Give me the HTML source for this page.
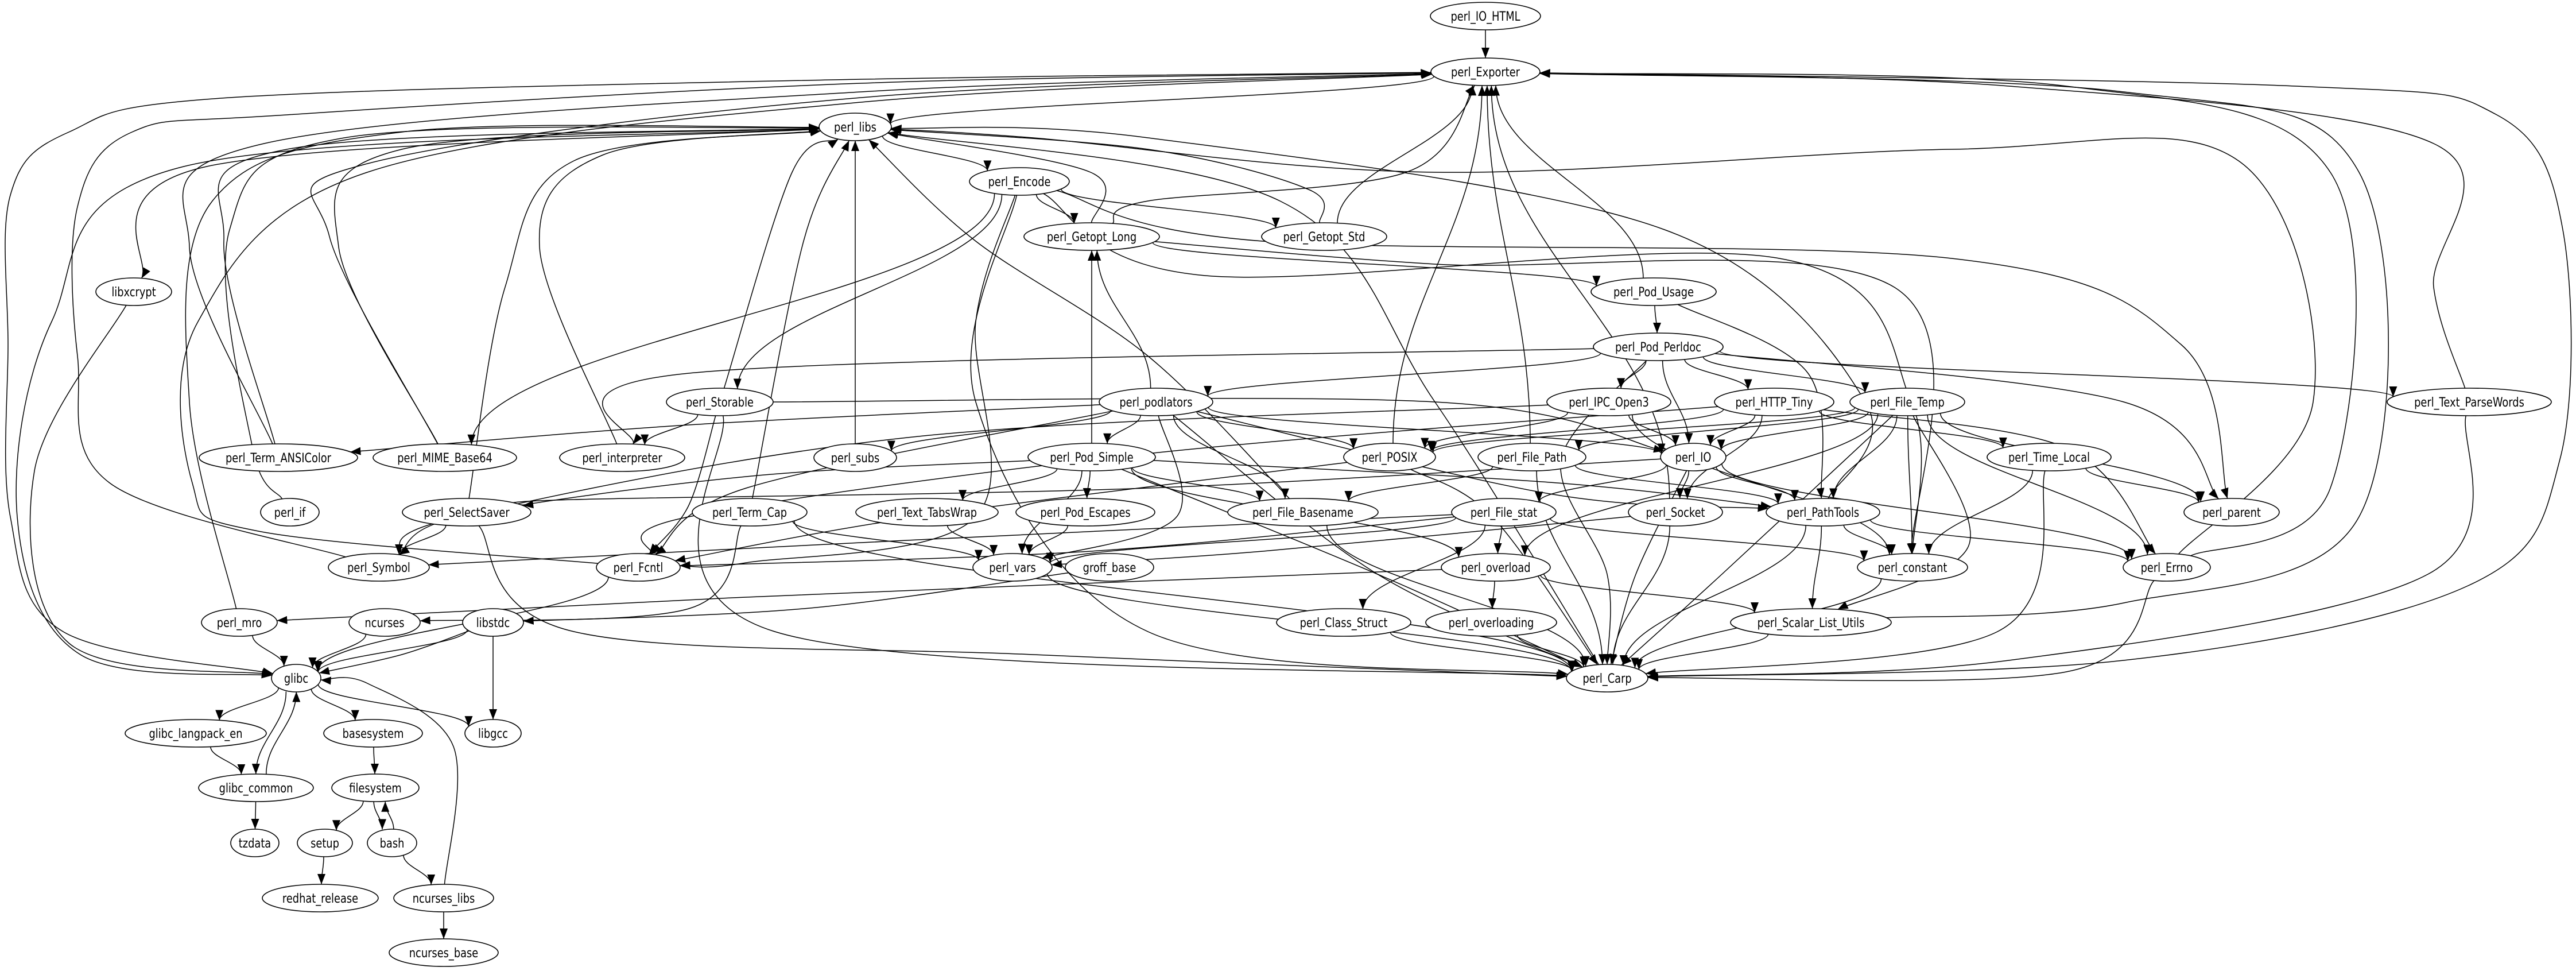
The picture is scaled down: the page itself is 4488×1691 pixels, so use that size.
<!DOCTYPE html>
<html><head><meta charset="utf-8"><style>
html,body{margin:0;padding:0;background:#fff;width:4488px;height:1691px;overflow:hidden}
svg{display:block}
text{font-family:"DejaVu Sans","Liberation Sans",sans-serif;font-size:22px;text-anchor:middle;fill:#000}
ellipse{fill:#fff;stroke:#000;stroke-width:1.6}
</style></head><body>
<svg id="g" width="4488" height="1691" viewBox="0 0 4488 1691" xmlns="http://www.w3.org/2000/svg">
<defs><marker id="a" markerUnits="userSpaceOnUse" markerWidth="20" markerHeight="14" refX="18" refY="7" orient="auto"><polygon points="0,0 18,7 0,14" fill="#000"/></marker></defs>
<g id="edges" fill="none" stroke="#000" stroke-width="1.5"></g>
<g id="nodes">
<ellipse cx="2588" cy="28" rx="96" ry="24"/><text transform="translate(2588,36) scale(.81,1)">perl_IO_HTML</text>
<ellipse cx="2588" cy="125" rx="95" ry="24"/><text transform="translate(2588,133) scale(.81,1)">perl_Exporter</text>
<ellipse cx="1490" cy="221" rx="63" ry="24"/><text transform="translate(1490,229) scale(.81,1)">perl_libs</text>
<ellipse cx="1776" cy="316" rx="87" ry="24"/><text transform="translate(1776,324) scale(.81,1)">perl_Encode</text>
<ellipse cx="1902" cy="412" rx="118" ry="24"/><text transform="translate(1902,420) scale(.81,1)">perl_Getopt_Long</text>
<ellipse cx="2307" cy="412" rx="109" ry="24"/><text transform="translate(2307,420) scale(.81,1)">perl_Getopt_Std</text>
<ellipse cx="233" cy="508" rx="66" ry="24"/><text transform="translate(233,516) scale(.81,1)">libxcrypt</text>
<ellipse cx="2881" cy="508" rx="109" ry="24"/><text transform="translate(2881,516) scale(.81,1)">perl_Pod_Usage</text>
<ellipse cx="2889" cy="604" rx="113" ry="24"/><text transform="translate(2889,612) scale(.81,1)">perl_Pod_Perldoc</text>
<ellipse cx="1254" cy="700" rx="93" ry="24"/><text transform="translate(1254,708) scale(.81,1)">perl_Storable</text>
<ellipse cx="2014" cy="700" rx="99" ry="24"/><text transform="translate(2014,708) scale(.81,1)">perl_podlators</text>
<ellipse cx="2803" cy="700" rx="108" ry="24"/><text transform="translate(2803,708) scale(.81,1)">perl_IPC_Open3</text>
<ellipse cx="3091" cy="700" rx="104" ry="24"/><text transform="translate(3091,708) scale(.81,1)">perl_HTTP_Tiny</text>
<ellipse cx="3323" cy="700" rx="100" ry="24"/><text transform="translate(3323,708) scale(.81,1)">perl_File_Temp</text>
<ellipse cx="4302" cy="700" rx="143" ry="24"/><text transform="translate(4302,708) scale(.81,1)">perl_Text_ParseWords</text>
<ellipse cx="485" cy="797" rx="138" ry="24"/><text transform="translate(485,805) scale(.81,1)">perl_Term_ANSIColor</text>
<ellipse cx="775" cy="797" rx="125" ry="24"/><text transform="translate(775,805) scale(.81,1)">perl_MIME_Base64</text>
<ellipse cx="1084" cy="797" rx="109" ry="24"/><text transform="translate(1084,805) scale(.81,1)">perl_interpreter</text>
<ellipse cx="1490" cy="797" rx="72" ry="24"/><text transform="translate(1490,805) scale(.81,1)">perl_subs</text>
<ellipse cx="1902" cy="796" rx="111" ry="24"/><text transform="translate(1902,804) scale(.81,1)">perl_Pod_Simple</text>
<ellipse cx="2421" cy="796" rx="80" ry="24"/><text transform="translate(2421,804) scale(.81,1)">perl_POSIX</text>
<ellipse cx="2669" cy="796" rx="94" ry="24"/><text transform="translate(2669,804) scale(.81,1)">perl_File_Path</text>
<ellipse cx="2950" cy="796" rx="57" ry="24"/><text transform="translate(2950,804) scale(.81,1)">perl_IO</text>
<ellipse cx="3570" cy="796" rx="108" ry="24"/><text transform="translate(3570,804) scale(.81,1)">perl_Time_Local</text>
<ellipse cx="505" cy="892" rx="51" ry="24"/><text transform="translate(505,900) scale(.81,1)">perl_if</text>
<ellipse cx="813" cy="892" rx="112" ry="24"/><text transform="translate(813,900) scale(.81,1)">perl_SelectSaver</text>
<ellipse cx="1306" cy="892" rx="100" ry="24"/><text transform="translate(1306,900) scale(.81,1)">perl_Term_Cap</text>
<ellipse cx="1615" cy="892" rx="124" ry="24"/><text transform="translate(1615,900) scale(.81,1)">perl_Text_TabsWrap</text>
<ellipse cx="1891" cy="892" rx="121" ry="24"/><text transform="translate(1891,900) scale(.81,1)">perl_Pod_Escapes</text>
<ellipse cx="2270" cy="892" rx="131" ry="24"/><text transform="translate(2270,900) scale(.81,1)">perl_File_Basename</text>
<ellipse cx="2620" cy="892" rx="91" ry="24"/><text transform="translate(2620,900) scale(.81,1)">perl_File_stat</text>
<ellipse cx="2919" cy="892" rx="82" ry="24"/><text transform="translate(2919,900) scale(.81,1)">perl_Socket</text>
<ellipse cx="3176" cy="892" rx="99" ry="24"/><text transform="translate(3176,900) scale(.81,1)">perl_PathTools</text>
<ellipse cx="3888" cy="892" rx="83" ry="24"/><text transform="translate(3888,900) scale(.81,1)">perl_parent</text>
<ellipse cx="660" cy="988" rx="88" ry="24"/><text transform="translate(660,996) scale(.81,1)">perl_Symbol</text>
<ellipse cx="1112" cy="988" rx="73" ry="24"/><text transform="translate(1112,996) scale(.81,1)">perl_Fcntl</text>
<ellipse cx="1764" cy="988" rx="69" ry="24"/><text transform="translate(1764,996) scale(.81,1)">perl_vars</text>
<ellipse cx="1933" cy="988" rx="77" ry="24"/><text transform="translate(1933,996) scale(.81,1)">groff_base</text>
<ellipse cx="2606" cy="988" rx="95" ry="24"/><text transform="translate(2606,996) scale(.81,1)">perl_overload</text>
<ellipse cx="3332" cy="988" rx="96" ry="24"/><text transform="translate(3332,996) scale(.81,1)">perl_constant</text>
<ellipse cx="3775" cy="988" rx="76" ry="24"/><text transform="translate(3775,996) scale(.81,1)">perl_Errno</text>
<ellipse cx="417" cy="1084" rx="66" ry="24"/><text transform="translate(417,1092) scale(.81,1)">perl_mro</text>
<ellipse cx="670" cy="1084" rx="62" ry="24"/><text transform="translate(670,1092) scale(.81,1)">ncurses</text>
<ellipse cx="859" cy="1084" rx="53" ry="24"/><text transform="translate(859,1092) scale(.81,1)">libstdc</text>
<ellipse cx="2341" cy="1084" rx="117" ry="24"/><text transform="translate(2341,1092) scale(.81,1)">perl_Class_Struct</text>
<ellipse cx="2598" cy="1084" rx="114" ry="24"/><text transform="translate(2598,1092) scale(.81,1)">perl_overloading</text>
<ellipse cx="3155" cy="1084" rx="140" ry="24"/><text transform="translate(3155,1092) scale(.81,1)">perl_Scalar_List_Utils</text>
<ellipse cx="516" cy="1181" rx="43" ry="24"/><text transform="translate(516,1189) scale(.81,1)">glibc</text>
<ellipse cx="2800" cy="1181" rx="71" ry="24"/><text transform="translate(2800,1189) scale(.81,1)">perl_Carp</text>
<ellipse cx="341" cy="1277" rx="123" ry="24"/><text transform="translate(341,1285) scale(.81,1)">glibc_langpack_en</text>
<ellipse cx="650" cy="1277" rx="86" ry="24"/><text transform="translate(650,1285) scale(.81,1)">basesystem</text>
<ellipse cx="859" cy="1277" rx="49" ry="24"/><text transform="translate(859,1285) scale(.81,1)">libgcc</text>
<ellipse cx="446" cy="1372" rx="100" ry="24"/><text transform="translate(446,1380) scale(.81,1)">glibc_common</text>
<ellipse cx="654" cy="1372" rx="76" ry="24"/><text transform="translate(654,1380) scale(.81,1)">filesystem</text>
<ellipse cx="444" cy="1468" rx="42" ry="24"/><text transform="translate(444,1476) scale(.81,1)">tzdata</text>
<ellipse cx="566" cy="1468" rx="48" ry="24"/><text transform="translate(566,1476) scale(.81,1)">setup</text>
<ellipse cx="683" cy="1468" rx="43" ry="24"/><text transform="translate(683,1476) scale(.81,1)">bash</text>
<ellipse cx="558" cy="1564" rx="101" ry="24"/><text transform="translate(558,1572) scale(.81,1)">redhat_release</text>
<ellipse cx="773" cy="1564" rx="87" ry="24"/><text transform="translate(773,1572) scale(.81,1)">ncurses_libs</text>
<ellipse cx="773" cy="1659" rx="95" ry="24"/><text transform="translate(773,1667) scale(.81,1)">ncurses_base</text>
</g>
</svg>
<script>
var N={};
document.querySelectorAll('#nodes ellipse').forEach(function(e){
  var t=e.nextElementSibling.textContent;
  N[t]={x:+e.getAttribute('cx'),y:+e.getAttribute('cy'),rx:+e.getAttribute('rx'),ry:24};
});
function bp(n,p){var dx=p[0]-n.x,dy=p[1]-n.y;if(!dx&&!dy)dy=1;var t=1/Math.sqrt((dx/n.rx)*(dx/n.rx)+(dy/n.ry)*(dy/n.ry));return [n.x+dx*t,n.y+dy*t];}
var P='perl_';
var E=[
['IO_HTML','Exporter'],['Exporter','libs'],
['Exporter','glibc',[[1500,138],[400,170],[120,230],[18,340],[14,600],[18,900],[110,1100]]],
['Symbol','Exporter',[[191,841],[135,620],[135,360],[230,230],[500,200],[1500,145]]],
['Term_ANSIColor','Exporter',[[330,430],[460,250],[1500,160]]],
['MIME_Base64','Exporter',[[574,412],[640,285],[1500,170]]],
['Fcntl','Exporter',[[450,925],[335,841],[345,560],[640,300],[1500,178]]],
['libs','libxcrypt',[[360,290]]],
['libs','glibc',[[320,290],[90,560],[30,900],[140,1140]]],
['libxcrypt','glibc',[[60,820],[120,1120]]],
['Term_ANSIColor','libs',[[390,420],[500,260]]],
['MIME_Base64','libs',[[590,430],[700,260]]],
['interpreter','libs',[[940,430],[1050,270]]],
['if','libs',[[440,780],[400,400],[600,240]]],
['SelectSaver','libs',[[880,500],[1000,280]]],
['mro','libs',[[330,700],[370,350],[700,230]]],
['subs','libs'],['Storable','libs',[[1380,300]]],
['Term_Cap','libs',[[1400,420]]],
['Getopt_Long','libs',[[1900,300]]],['Getopt_Std','libs',[[2280,330],[2000,260]]],
['File_Basename','libs',[[2000,620],[1700,420]]],
['Carp','libs',[[2500,700],[2230,350]]],
['Errno','libs',[[4030,700],[3900,280],[3400,260],[2500,300],[1800,240]]],
['PathTools','libs',[[3250,700],[2900,400],[2000,240]]],
['libs','Encode'],
['Encode','Getopt_Long'],['Encode','Getopt_Std'],['Encode','Storable'],['Encode','MIME_Base64'],
['Encode','constant',[[2100,480],[3100,450],[3330,700]]],
['Encode','parent',[[2200,420],[3400,450],[3800,600]]],
['Encode','Carp',[[1700,700],[2000,1100]]],
['Encode','Fcntl',[[1700,560],[1700,900],[1300,980]]],
['Getopt_Long','Pod_Usage'],['Getopt_Long','constant',[[2500,460],[3300,500]]],
['Getopt_Long','Exporter',[[2000,350],[2450,300]]],
['Getopt_Std','Exporter'],
['Pod_Usage','Exporter'],['Pod_Usage','Pod_Perldoc'],['Pod_Usage','PathTools',[[3150,650]]],
['Pod_Perldoc','podlators'],['Pod_Perldoc','IPC_Open3'],['Pod_Perldoc','IO'],['Pod_Perldoc','HTTP_Tiny'],
['Pod_Perldoc','File_Temp'],['Pod_Perldoc','Text_ParseWords'],['Pod_Perldoc','parent',[[3700,700]]],
['Pod_Perldoc','interpreter',[[1200,650]]],['Pod_Perldoc','Carp',[[2720,800],[2800,1000]]],
['podlators','Getopt_Long'],['podlators','Pod_Simple'],['podlators','subs'],['podlators','POSIX'],
['podlators','IO'],['podlators','File_Basename'],['podlators','vars',[[2050,900]]],
['podlators','Term_ANSIColor',[[1200,740]]],['podlators','Carp',[[2400,1000]]],['podlators','PathTools',[[2700,860]]],
['podlators','Fcntl',[[1300,850]]],
['Storable','Fcntl',[[1200,880]]],['Storable','Carp',[[1350,1100]]],['Storable','IO',[[2500,700]]],['Storable','interpreter'],
['IPC_Open3','POSIX'],['IPC_Open3','IO'],['IPC_Open3','constant'],['IPC_Open3','Symbol',[[1600,760],[800,900]]],
['HTTP_Tiny','IO'],['HTTP_Tiny','Socket'],['HTTP_Tiny','Time_Local'],['HTTP_Tiny','Errno',[[3600,780]]],
['HTTP_Tiny','POSIX'],['HTTP_Tiny','Fcntl',[[2000,790],[1200,900]]],
['File_Temp','IO'],['File_Temp','File_Path'],['File_Temp','POSIX'],['File_Temp','constant'],
['File_Temp','Scalar_List_Utils',[[3430,950]]],['File_Temp','overload'],['File_Temp','parent'],
['File_Temp','Errno'],['File_Temp','Carp',[[3000,1000]]],['File_Temp','PathTools'],
['Text_ParseWords','Exporter',[[4240,500],[4240,250],[3500,150]]],
['Text_ParseWords','Carp',[[4230,1000],[3500,1150]]],
['Carp','Exporter',[[3700,1150],[4300,1020],[4460,800],[4465,400],[4350,200],[4000,150]]],
['Scalar_List_Utils','Exporter',[[3700,1050],[4110,900],[4110,300],[3700,160]]],
['Errno','Exporter',[[4060,850],[4060,300],[3600,150]]],
['Pod_Simple','Getopt_Long'],['Pod_Simple','Text_TabsWrap'],['Pod_Simple','Pod_Escapes'],['Pod_Simple','File_Basename'],
['Pod_Simple','overload'],['Pod_Simple','Carp',[[2400,1000]]],['Pod_Simple','PathTools',[[2700,840]]],
['Pod_Simple','Symbol',[[1300,830],[800,900]]],['Pod_Simple','vars'],
['POSIX','Exporter'],['POSIX','Fcntl',[[1600,900]]],['POSIX','Carp',[[2600,900]]],
['File_Path','Exporter'],['File_Path','File_Basename'],['File_Path','PathTools'],['File_Path','Carp'],
['IO','File_stat'],['IO','Socket'],['IO','Errno'],['IO','PathTools'],['IO','Carp',[[2850,1000]]],
['IO','SelectSaver',[[2000,850],[1000,870]]],
['Time_Local','constant'],['Time_Local','parent'],['Time_Local','Carp',[[3480,1100]]],
['SelectSaver','Symbol'],['SelectSaver','Carp',[[1000,1100],[1800,1140]]],
['Term_Cap','vars'],['Term_Cap','ncurses',[[1200,1060]]],['Term_Cap','Carp'],
['Text_TabsWrap','vars'],['Pod_Escapes','vars'],['File_Basename','Carp'],
['File_stat','Symbol',[[1600,940]]],['File_stat','Fcntl',[[1900,960]]],['File_stat','overload'],
['File_stat','Class_Struct'],['File_stat','constant'],['File_stat','vars'],
['Socket','Exporter'],['Socket','Carp'],['Socket','vars',[[2200,960]]],
['PathTools','constant'],['PathTools','Errno'],['PathTools','Scalar_List_Utils'],['PathTools','Carp'],
['Fcntl','glibc'],['vars','Carp'],['groff_base','libstdc',[[1400,1060]]],
['overload','overloading'],['overload','Scalar_List_Utils'],['overload','mro',[[1300,1040]]],
['constant','Carp'],['Errno','Carp',[[3600,1170]]],
['mro','glibc'],['ncurses','glibc'],['libstdc','glibc'],['libstdc','glibc',[[700,1140]]],['libstdc','libgcc'],
['Class_Struct','Carp'],['overloading','Carp'],['Scalar_List_Utils','Carp'],
['glibc','glibc_langpack_en'],['glibc','glibc_common'],['glibc_common','glibc'],['glibc','basesystem'],['glibc','libgcc'],
['glibc_langpack_en','glibc_common'],['glibc_common','tzdata'],['basesystem','filesystem'],['filesystem','setup'],
['filesystem','bash'],['bash','filesystem'],['setup','redhat_release'],['bash','ncurses_libs'],
['ncurses_libs','glibc',[[790,1300],[640,1190]]],['ncurses_libs','ncurses_base']
];
function nm(s){return N[P+s]||N[s];}
var out='';
E.forEach(function(e,i){
  var a=nm(e[0]),b=nm(e[1]);if(!a||!b)return;
  var w=e[2]||[];
  var off=0;
  if(e[0]=='glibc'&&e[1]=='glibc_common')off=-8;if(e[0]=='glibc_common'&&e[1]=='glibc')off=8;
  if(e[0]=='filesystem'&&e[1]=='bash')off=-8;if(e[0]=='bash'&&e[1]=='filesystem')off=8;
  var s=bp(a,w.length?w[0]:[b.x+off,b.y]);s[0]+=off;
  var t=bp(b,w.length?w[w.length-1]:[a.x+off,a.y]);t[0]+=off;
  var pts=[s].concat(w).concat([t]);
  var d='M'+s[0].toFixed(1)+','+s[1].toFixed(1);
  if(pts.length==2){
    var dy=(t[1]-s[1])*0.4;
    d+=' C'+s[0].toFixed(1)+','+(s[1]+dy).toFixed(1)+' '+t[0].toFixed(1)+','+(t[1]-dy).toFixed(1)+' '+t[0].toFixed(1)+','+t[1].toFixed(1);
  } else {
    for(var k=0;k<pts.length-1;k++){
      var p0=pts[k-1]||pts[k],p1=pts[k],p2=pts[k+1],p3=pts[k+2]||p2;
      var c1=[p1[0]+(p2[0]-p0[0])/6,p1[1]+(p2[1]-p0[1])/6];
      var c2=[p2[0]-(p3[0]-p1[0])/6,p2[1]-(p3[1]-p1[1])/6];
      d+=' C'+c1[0].toFixed(1)+','+c1[1].toFixed(1)+' '+c2[0].toFixed(1)+','+c2[1].toFixed(1)+' '+p2[0].toFixed(1)+','+p2[1].toFixed(1);
    }
  }
  out+='<path d="'+d+'" marker-end="url(#a)"/>';
});
document.getElementById('edges').innerHTML=out;
</script>
</body></html>
